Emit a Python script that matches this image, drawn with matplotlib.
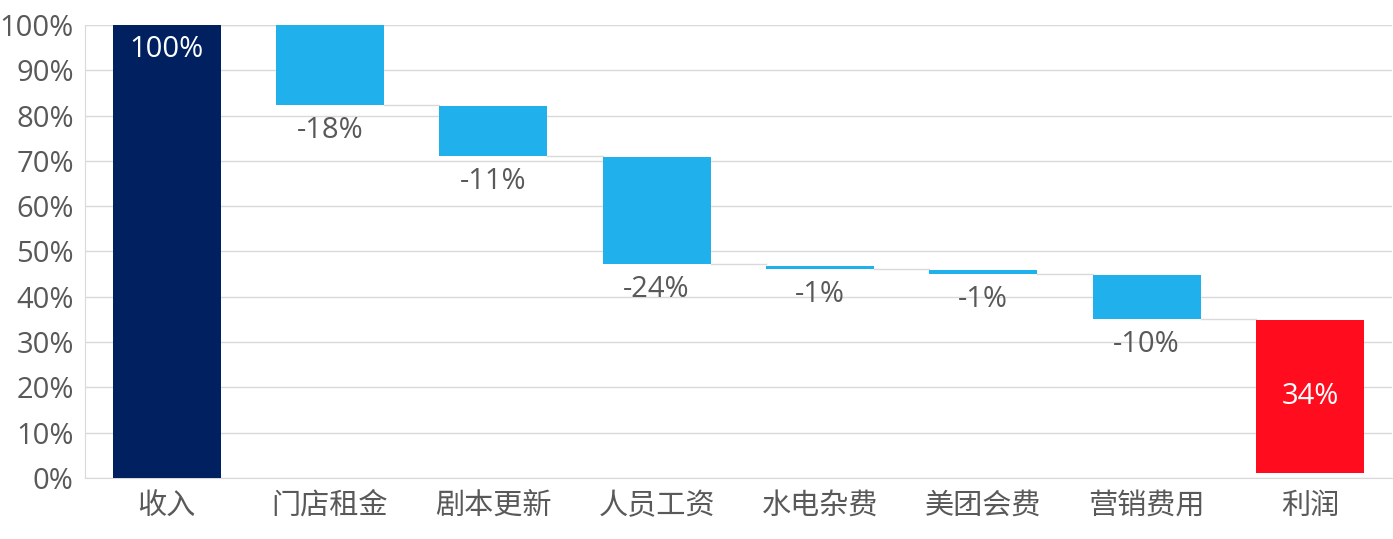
import numpy as np
import matplotlib
matplotlib.use("Agg")
import matplotlib.pyplot as plt
from matplotlib.ticker import PercentFormatter

plt.rcParams['font.family'] = ['Open Sans', 'Noto Sans CJK SC', 'DejaVu Sans']

# ── data (in %) ─────────────────────────────────────────────────────────
CATEGORIES = ["收入", "门店租金", "剧本更新", "人员工资", "水电杂费", "美团会费", "营销费用", "利润"]
BOTTOMS    = [0, 82.3, 71.1, 47.2, 46.1, 45.1, 35.1, 1.1]
HEIGHTS    = [100, 17.7, 11.0, 23.7, 0.8, 0.8, 9.8, 33.8]
LABELS     = ["100%", "-18%", "-11%", "-24%", "-1%", "-1%", "-10%", "34%"]
KINDS      = ["total", "neg", "neg", "neg", "neg", "neg", "neg", "total_red"]

NAVY  = "#002060"
BLUE  = "#20B0EC"
RED   = "#FF0D1E"
GREY  = "#595959"
GRID  = "#D9D9D9"
COLORS = {"total": NAVY, "neg": BLUE, "total_red": RED}

fig = plt.figure(figsize=(13.93, 5.39), dpi=100, facecolor="white")
ax = fig.add_axes([0.061, 0.1132, 0.938, 0.8404])

x = np.arange(len(CATEGORIES))
w = 0.66
ax.bar(x, HEIGHTS, bottom=BOTTOMS, width=w,
       color=[COLORS[k] for k in KINDS], zorder=3)

# connector lines between consecutive bars
for i in range(len(CATEGORIES) - 1):
    lvl = BOTTOMS[i] if KINDS[i] == "neg" else BOTTOMS[i] + HEIGHTS[i]
    ax.plot([x[i] + w / 2, x[i + 1] - w / 2], [lvl, lvl],
            color=GRID, lw=1, zorder=2)

# value labels
FS = 21
for i, (b, h, lab, k) in enumerate(zip(BOTTOMS, HEIGHTS, LABELS, KINDS)):
    if k == "total":
        ax.text(x[i], b + h - 5.3, lab, ha="center", va="center",
                fontsize=FS, color="white", zorder=4)
    elif k == "total_red":
        ax.text(x[i], b + h / 2, lab, ha="center", va="center",
                fontsize=FS, color="white", zorder=4)
    else:
        ax.text(x[i], b - 5.6, lab, ha="center", va="center",
                fontsize=FS, color=GREY, zorder=4)

ax.set_xlim(-0.5, 7.5)
ax.set_ylim(0, 100)
ax.set_yticks(np.arange(0, 101, 10))
ax.yaxis.set_major_formatter(PercentFormatter(decimals=0))
ax.set_xticks(x)
ax.set_xticklabels(CATEGORIES)
ax.tick_params(axis="both", length=0, labelsize=FS, colors=GREY)
ax.tick_params(axis="y", pad=8)
ax.tick_params(axis="x", pad=10)
ax.grid(axis="y", color=GRID, lw=1, zorder=0)

for s in ["top", "right"]:
    ax.spines[s].set_visible(False)
ax.spines["left"].set_color(GRID)
ax.spines["bottom"].set_color(GRID)

fig.savefig("out.png", dpi=100, facecolor="white")
